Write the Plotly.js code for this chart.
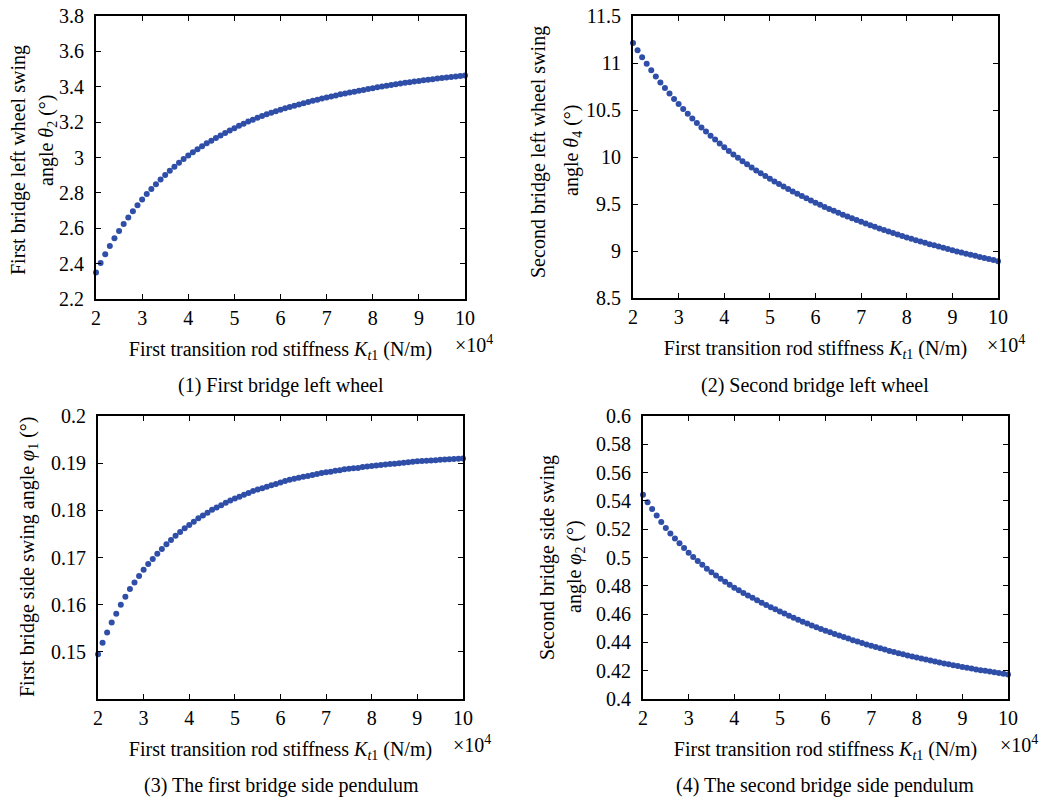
<!DOCTYPE html>
<html><head><meta charset="utf-8">
<script src="https://cdn.plot.ly/plotly-3.0.1.min.js"></script>
<style>body{margin:0;background:#fff}#chart{width:1043px;height:801px}</style>
</head><body><div id="chart"></div>
<script>
// First transition rod stiffness K_t1 (×10^4 N/m)
const stiffness = [2.0,2.1,2.2,2.3,2.4,2.5,2.6,2.7,2.8,2.9,3.0,3.1,3.2,3.3,3.4,3.5,3.6,3.7,3.8,3.9,
4.0,4.1,4.2,4.3,4.4,4.5,4.6,4.7,4.8,4.9,5.0,5.1,5.2,5.3,5.4,5.5,5.6,5.7,5.8,5.9,
6.0,6.1,6.2,6.3,6.4,6.5,6.6,6.7,6.8,6.9,7.0,7.1,7.2,7.3,7.4,7.5,7.6,7.7,7.8,7.9,
8.0,8.1,8.2,8.3,8.4,8.5,8.6,8.7,8.8,8.9,9.0,9.1,9.2,9.3,9.4,9.5,9.6,9.7,9.8,9.9,10.0];

// (1) First bridge left wheel swing angle theta2 (deg)
const theta2 = [2.350,2.403,2.453,2.499,2.543,2.585,
2.624,2.661,2.696,2.730,2.763,
2.793,2.822,2.849,2.875,2.901,
2.925,2.948,2.970,2.991,3.012,
3.030,3.047,3.064,3.080,3.095,
3.110,3.125,3.139,3.153,3.166,
3.179,3.191,3.203,3.214,3.225,
3.235,3.244,3.253,3.262,3.270,
3.278,3.286,3.293,3.300,3.307,
3.314,3.321,3.327,3.333,3.339,
3.345,3.351,3.357,3.362,3.367,
3.372,3.377,3.382,3.387,3.392,
3.397,3.402,3.406,3.410,3.414,
3.418,3.422,3.426,3.430,3.433,
3.437,3.440,3.443,3.446,3.449,
3.452,3.455,3.458,3.461,3.463];

// (2) Second bridge left wheel swing angle theta4 (deg)
const theta4 = [11.213,11.136,11.062,10.991,10.922,10.856,
10.793,10.733,10.675,10.618,10.563,
10.510,10.459,10.410,10.362,10.315,
10.270,10.227,10.185,10.144,10.103,
10.064,10.027,9.991,9.956,9.922,
9.889,9.857,9.827,9.797,9.768,
9.740,9.712,9.685,9.659,9.633,
9.608,9.584,9.560,9.536,9.513,
9.491,9.469,9.448,9.427,9.406,
9.386,9.367,9.348,9.329,9.310,
9.292,9.274,9.257,9.240,9.223,
9.207,9.191,9.175,9.159,9.144,
9.129,9.115,9.101,9.087,9.073,
9.060,9.047,9.034,9.021,9.008,
8.996,8.984,8.972,8.960,8.949,
8.937,8.925,8.914,8.903,8.892];

// (3) First bridge side swing angle phi1 (deg)
const phi1 = [0.1495,0.1519,0.1541,0.1562,0.1581,0.1600,
0.1617,0.1633,0.1647,0.1661,0.1674,
0.1686,0.1697,0.1708,0.1718,0.1728,
0.1737,0.1746,0.1754,0.1762,0.1769,
0.1776,0.1783,0.1789,0.1795,0.1801,
0.1806,0.1811,0.1816,0.1821,0.1825,
0.1829,0.1833,0.1837,0.1841,0.1844,
0.1847,0.1850,0.1853,0.1856,0.1859,
0.1862,0.1865,0.1867,0.1869,0.1871,
0.1873,0.1875,0.1877,0.1879,0.1881,
0.1882,0.1884,0.1885,0.1887,0.1888,
0.1889,0.1890,0.1892,0.1893,0.1894,
0.1895,0.1896,0.1897,0.1898,0.1899,
0.1900,0.1901,0.1902,0.1903,0.1904,
0.19046,0.19052,0.19058,0.19064,0.1907,
0.19076,0.19082,0.19088,0.19094,0.1910];

// (4) Second bridge side swing angle phi2 (deg)
const phi2 = [0.5443,0.5391,0.5342,0.5296,0.5251,0.5208,
0.5170,0.5134,0.5100,0.5067,0.5034,
0.5004,0.4975,0.4948,0.4921,0.4895,
0.4872,0.4850,0.4829,0.4808,0.4787,
0.4768,0.4750,0.4732,0.4715,0.4698,
0.4681,0.4665,0.4649,0.4634,0.4619,
0.4604,0.4589,0.4574,0.4560,0.4546,
0.4533,0.4520,0.4507,0.4495,0.4483,
0.4471,0.4460,0.4449,0.4438,0.4427,
0.4416,0.4406,0.4396,0.4386,0.4376,
0.4367,0.4358,0.4349,0.4340,0.4332,
0.4324,0.4316,0.4308,0.4300,0.4293,
0.4286,0.4279,0.4272,0.4265,0.4258,
0.4251,0.4245,0.4239,0.4233,0.4227,
0.4221,0.4215,0.4209,0.4204,0.4199,
0.4194,0.4189,0.4184,0.4179,0.4174];

// Tick labels
const xTicks = [2,3,4,5,6,7,8,9,10];
const yTicks1 = [2.2,2.4,2.6,2.8,3,3.2,3.4,3.6,3.8];
const yTicks2 = [8.5,9,9.5,10,10.5,11,11.5];
const yTicks3 = [0.15,0.16,0.17,0.18,0.19,0.2];
const yTicks4 = [0.4,0.42,0.44,0.46,0.48,0.5,0.52,0.54,0.56,0.58,0.6];

const captions = ['(1) First bridge left wheel','(2) Second bridge left wheel',
  '(3) The first bridge side pendulum','(4) The second bridge side pendulum'];
const xTitle = 'First transition rod stiffness <i>K</i><sub><i>t</i>1</sub> (N/m)';

const W = 1043, H = 801;
const FONT = 'Liberation Serif';
const dotColor = '#2f4ea8';

function trace(y, xa_, ya_) {
  return {x: stiffness, y: y, xaxis: xa_, yaxis: ya_, type: 'scatter', mode: 'markers',
    cliponaxis: false, marker: {color: dotColor, size: 6}, hoverinfo: 'x+y'};
}
const data = [trace(theta2,'x','y'), trace(theta4,'x2','y2'), trace(phi1,'x3','y3'), trace(phi2,'x4','y4')];

function xa(px0, px1, anchor) {
  return {domain: [px0/W, px1/W], anchor: anchor, range: [2,10], tickvals: xTicks,
    ticktext: xTicks.map(String),
    ticks: 'inside', ticklen: 5, tickwidth: 1, tickcolor: '#000', showline: true, linecolor: '#000',
    linewidth: 2, mirror: 'ticks', showgrid: false, zeroline: false, ticklabelstandoff: 0,
    tickfont: {family: FONT, size: 20, color: '#000'},
    title: {text: xTitle, font: {family: FONT, size: 20, color: '#000'}, standoff: 14}};
}
function ya(py0, py1, anchor, range, ticks) {
  return {domain: [1-py1/H, 1-py0/H], anchor: anchor, range: range, tickvals: ticks,
    ticktext: ticks.map(String),
    ticks: 'inside', ticklen: 5, tickwidth: 1, tickcolor: '#000', showline: true, linecolor: '#000',
    linewidth: 2, mirror: 'ticks', showgrid: false, zeroline: false, ticklabelstandoff: 6,
    tickfont: {family: FONT, size: 20, color: '#000'}};
}

function ann(text, px, py, extra) {
  return Object.assign({text: text, x: px/W, y: 1-py/H, xref: 'paper', yref: 'paper',
    showarrow: false, xanchor: 'center', yanchor: 'middle',
    font: {family: FONT, size: 20, color: '#000'}}, extra || {});
}
const expo = {xanchor: 'left', font: {family: FONT, size: 20, color: '#000'}};

const annotations = [
  ann(captions[0], 281, 385), ann(captions[1], 815, 385),
  ann(captions[2], 281, 785), ann(captions[3], 825, 785),
  ann('×10<sup>4</sup>', 453, 344, expo),
  ann('×10<sup>4</sup>', 985, 344, expo),
  ann('×10<sup>4</sup>', 451, 744, expo),
  ann('×10<sup>4</sup>', 998, 744, expo),
  ann('First bridge left wheel swing', 18, 160, {textangle: -90}),
  ann('angle <i>θ</i><sub>2</sub> (°)', 47, 141, {textangle: -90}),
  ann('Second bridge left wheel swing', 538, 152, {textangle: -90}),
  ann('angle <i>θ</i><sub>4</sub> (°)', 572, 151, {textangle: -90}),
  ann('First bridge side swing angle <i>φ</i><sub>1</sub> (°)', 28, 557, {textangle: -90}),
  ann('Second bridge side swing', 547, 558, {textangle: -90}),
  ann('angle <i>φ</i><sub>2</sub> (°)', 575, 567, {textangle: -90})
];

const layout = {
  width: W, height: H, margin: {l: 0, r: 0, t: 0, b: 0},
  paper_bgcolor: '#fff', plot_bgcolor: '#fff', showlegend: false,
  font: {family: FONT, color: '#000'},
  xaxis: xa(96, 465, 'y'), yaxis: ya(16, 299, 'x', [2.2, 3.8], yTicks1),
  xaxis2: xa(633, 998, 'y2'), yaxis2: ya(16, 298, 'x2', [8.5, 11.5], yTicks2),
  xaxis3: xa(98, 463, 'y3'), yaxis3: ya(416, 699, 'x3', [0.14, 0.2], yTicks3),
  xaxis4: xa(643, 1008, 'y4'), yaxis4: ya(416, 699, 'x4', [0.4, 0.6], yTicks4),
  annotations: annotations
};

Plotly.newPlot('chart', data, layout, {displayModeBar: false, responsive: false});
</script>
</body></html>
